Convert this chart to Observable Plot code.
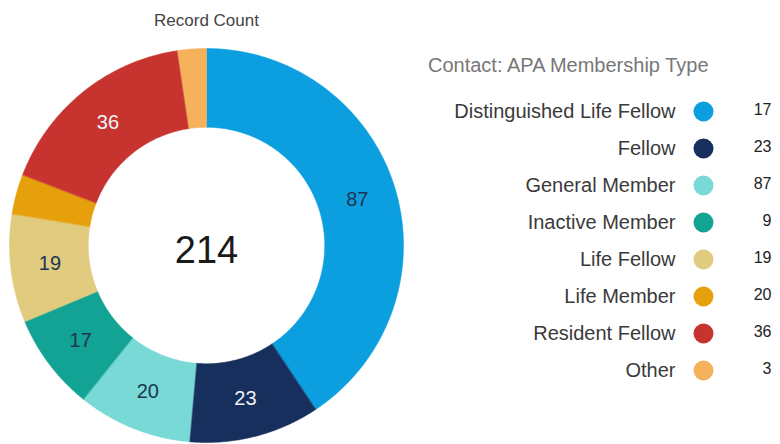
<!DOCTYPE html>
<html><head><meta charset="utf-8">
<script src="https://cdn.jsdelivr.net/npm/d3@7"></script>
<script src="https://cdn.jsdelivr.net/npm/@observablehq/plot@0.6"></script>
<style>
body{margin:0;background:#fff;font-family:"Liberation Sans",Arial,sans-serif;}
#wrap{position:relative;width:780px;height:444px;overflow:hidden;background:#fff;}
#donut{position:absolute;left:0;top:0;}
#legend{position:absolute;left:420px;top:0;}
#ltitle{position:absolute;left:428px;top:53px;font-size:20px;line-height:24px;color:#777;white-space:nowrap;}
</style></head><body>
<div id="wrap"><div id="donut"></div><div id="ltitle"></div><div id="legend"></div></div>
<script>
const categories = ["Distinguished Life Fellow","Fellow","General Member","Inactive Member","Life Fellow","Life Member","Resident Fellow","Other"];
const sliceValues = [87,23,20,17,19,7,36,5];
const legendValues = [17,23,87,9,19,20,36,3];
const palette = ["#0b9fe0","#172f5d","#78d9d6","#13a394","#e0cb7f","#e6a00c","#c7342f","#f6b15c"];
const lightLabelSlices = ["Fellow","Resident Fellow"];
const chartTitle = "Record Count";
const legendTitle = "Contact: APA Membership Type";
const totalCount = 214;

const slices = categories.map((name, i) => ({name, value: sliceValues[i]}));
const arcs = d3.pie().sort(null).value(d => d.value)(slices);
const INNER = 0.6, OUTER = 1, LABEL_R = 0.8;
const ring = [];
for (const a of arcs) {
  const n = Math.max(2, Math.ceil((a.endAngle - a.startAngle) / 0.01));
  for (let k = 0; k <= n; k++) {
    const t = a.startAngle + (a.endAngle - a.startAngle) * k / n;
    ring.push({name: a.data.name, x: OUTER * Math.sin(t), y: OUTER * Math.cos(t)});
  }
  for (let k = n; k >= 0; k--) {
    const t = a.startAngle + (a.endAngle - a.startAngle) * k / n;
    ring.push({name: a.data.name, x: INNER * Math.sin(t), y: INNER * Math.cos(t)});
  }
}
const total = d3.sum(sliceValues);
const labels = arcs.filter(a => a.data.value / total >= 0.05).map(a => {
  const m = (a.startAngle + a.endAngle) / 2;
  return {name: a.data.name, text: String(a.data.value), x: LABEL_R * Math.sin(m), y: LABEL_R * Math.cos(m)};
});

const donut = Plot.plot({
  width: 412, height: 444,
  marginLeft: 9, marginRight: 9, marginTop: 48, marginBottom: 2,
  x: {domain: [-1, 1], axis: null},
  y: {domain: [-1, 1], axis: null},
  color: {domain: categories, range: palette},
  style: {fontFamily: '"Liberation Sans", Arial, sans-serif', background: "transparent"},
  marks: [
    Plot.line(ring, {x: "x", y: "y", z: "name", fill: "name", stroke: "name", strokeWidth: 0.5, curve: "linear-closed"}),
    Plot.text(labels.filter(d => !lightLabelSlices.includes(d.name)), {x: "x", y: "y", text: "text", fill: "#1d3550", fontSize: 20}),
    Plot.text(labels.filter(d => lightLabelSlices.includes(d.name)), {x: "x", y: "y", text: "text", fill: "#eef3f8", fontSize: 20}),
    Plot.text([totalCount], {frameAnchor: "middle", text: d => String(d), fontSize: 38, fill: "#1a1a1a", dy: 5}),
    Plot.text([chartTitle], {frameAnchor: "top", text: d => d, dy: -23, lineAnchor: "bottom", fontSize: 17, fill: "#444"})
  ]
});
document.getElementById("donut").appendChild(donut);

document.getElementById("ltitle").textContent = legendTitle;

const legendRows = categories.map((name, i) => ({name, value: legendValues[i]}));
const legend = Plot.plot({
  width: 360, height: 400,
  marginLeft: 255, marginRight: 9, marginTop: 108, marginBottom: 27,
  y: {type: "point", domain: categories, padding: 0, axis: null},
  color: {domain: categories, range: palette},
  style: {fontFamily: '"Liberation Sans", Arial, sans-serif', background: "transparent"},
  marks: [
    Plot.text(legendRows, {y: "name", text: "name", frameAnchor: "left", textAnchor: "end", fontSize: 20, fill: "#3a3a3a"}),
    Plot.dot(legendRows, {y: "name", fill: "name", r: 10, frameAnchor: "left", dx: 28}),
    Plot.text(legendRows, {y: "name", text: d => String(d.value), frameAnchor: "right", textAnchor: "end", fontSize: 16, fill: "#222", dy: -2})
  ]
});
document.getElementById("legend").appendChild(legend);
</script>
</body></html>
